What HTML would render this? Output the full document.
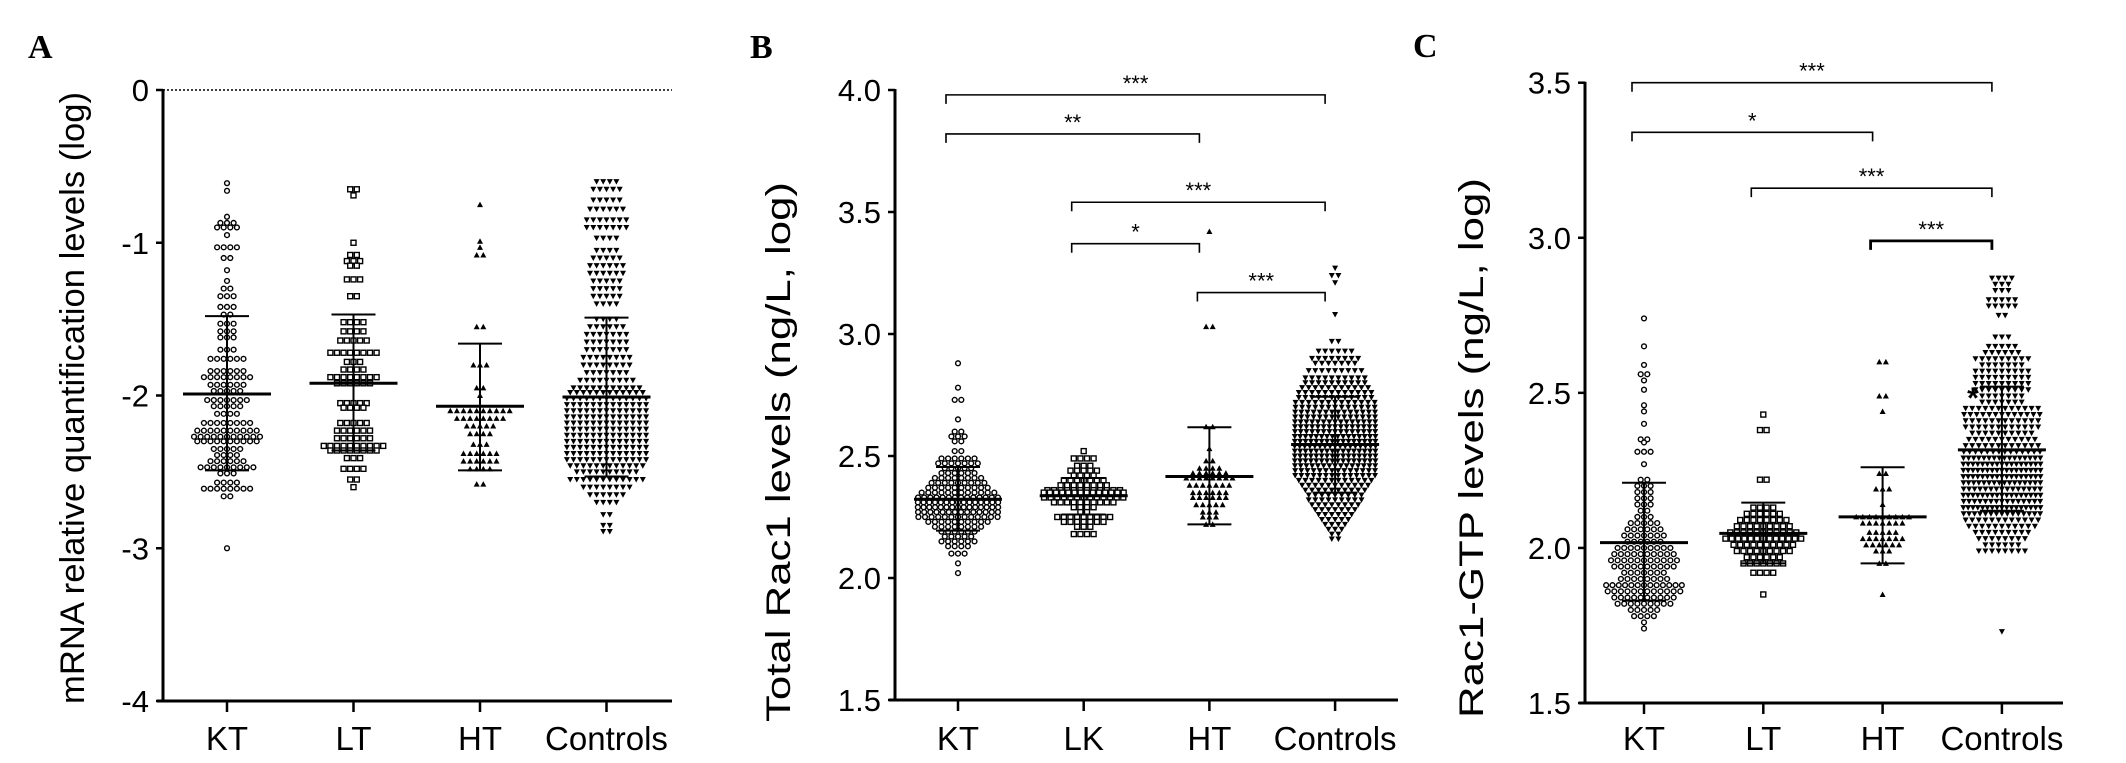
<!DOCTYPE html>
<html><head><meta charset="utf-8"><style>
html,body{margin:0;padding:0;background:#fff;}
svg{display:block;font-family:"Liberation Sans",Arial,sans-serif;}
</style></head><body>
<svg id="fig" width="2126" height="763" viewBox="0 0 2126 763" xmlns="http://www.w3.org/2000/svg"></svg>
<script>
// ---------- DATA ----------
const categoriesA = ["KT","LT","HT","Controls"];
const categoriesB = ["KT","LK","HT","Controls"];
const categoriesC = ["KT","LT","HT","Controls"];
const ticksA = [0,-1,-2,-3,-4];
const ticksB = [1.5,2.0,2.5,3.0,3.5,4.0];
const ticksC = [1.5,2.0,2.5,3.0,3.5];
// means and SD cap values per group
const meanA = [-1.99,-1.92,-2.07,-2.01];
const sdHiA = [-1.48,-1.47,-1.66,-1.49];
const sdLoA = [-2.49,-2.36,-2.49,-2.53];
const meanB = [2.323,2.337,2.416,2.547];
const sdHiB = [2.455,2.41,2.618,2.743];
const sdLoB = [2.194,2.26,2.22,2.35];
const meanC = [2.017,2.047,2.10,2.316];
const sdHiC = [2.21,2.146,2.26,2.52];
const sdLoC = [1.83,1.95,1.95,2.12];
// beeswarm rows: levels and number of points at each level
const A_KT_lv=[-0.61,-0.66,-0.83,-0.87,-0.9,-0.95,-1.03,-1.1,-1.18,-1.25,-1.3,-1.35,-1.42,-1.47,-1.53,-1.58,-1.62,-1.7,-1.76,-1.84,-1.88,-1.93,-1.97,-2.03,-2.07,-2.12,-2.18,-2.23,-2.27,-2.3,-2.35,-2.39,-2.43,-2.47,-2.51,-2.57,-2.61,-2.66,-3.0];
const A_KT_n =[1,1,1,3,4,1,4,2,1,1,2,3,3,2,3,3,3,3,6,6,8,6,5,7,5,4,8,10,11,10,5,4,6,9,3,4,8,2,1];
const A_LT_lv=[-0.65,-0.69,-1.0,-1.08,-1.12,-1.15,-1.24,-1.35,-1.52,-1.58,-1.64,-1.72,-1.78,-1.83,-1.88,-1.92,-2.05,-2.08,-2.18,-2.23,-2.28,-2.33,-2.36,-2.41,-2.48,-2.55,-2.6];
const A_LT_n =[2,1,1,2,3,2,3,2,4,4,5,8,3,4,8,6,5,4,5,6,6,10,8,3,4,2,1];
const A_HT_lv=[-0.75,-0.99,-1.03,-1.08,-1.55,-1.8,-1.95,-2.0,-2.1,-2.15,-2.2,-2.25,-2.32,-2.38,-2.43,-2.48,-2.58];
const A_HT_n =[1,1,1,2,2,3,2,1,10,8,5,4,3,6,6,4,2];
const A_CO_lv=[-0.6,-0.65,-0.72,-0.78,-0.85,-0.9,-0.97,-1.05,-1.1,-1.15,-1.2,-1.25,-1.3,-1.35,-1.4,-1.5,-1.55,-1.6,-1.65,-1.7,-1.75,-1.8,-1.85,-1.9,-1.95,-1.98,-2.02,-2.06,-2.1,-2.14,-2.18,-2.22,-2.26,-2.3,-2.34,-2.38,-2.42,-2.46,-2.5,-2.55,-2.6,-2.65,-2.7,-2.78,-2.85,-2.89];
const A_CO_n =[4,5,5,6,7,7,4,4,5,6,6,5,5,5,4,4,6,7,7,7,8,8,7,9,11,12,13,13,13,13,13,13,13,13,13,13,13,12,10,12,8,6,4,2,2,2];
const B_KT_lv=[2.88,2.78,2.73,2.65,2.6,2.58,2.56,2.52,2.49,2.47,2.45,2.43,2.41,2.39,2.37,2.35,2.33,2.31,2.29,2.27,2.25,2.23,2.21,2.19,2.17,2.15,2.13,2.1,2.06,2.02];
const B_KT_n =[1,1,2,1,2,3,2,2,6,7,5,6,8,9,10,12,14,15,15,14,13,10,8,6,5,6,4,3,1,1];
const B_LK_lv=[2.52,2.49,2.46,2.44,2.42,2.4,2.38,2.36,2.35,2.33,2.31,2.29,2.27,2.25,2.23,2.21,2.18];
const B_LK_n =[1,4,3,5,4,7,8,12,14,13,10,4,2,9,7,3,4];
const B_HT_lv=[3.42,3.03,2.62,2.53,2.48,2.45,2.43,2.41,2.38,2.35,2.33,2.3,2.27,2.25,2.22];
const B_HT_n =[1,2,2,1,2,4,6,8,7,6,6,5,3,3,2];
const B_CO_lv=[3.27,3.24,3.21,3.08,2.97,2.93,2.9,2.88,2.85,2.82,2.8,2.78,2.76,2.74,2.72,2.7,2.68,2.66,2.64,2.62,2.6,2.58,2.56,2.54,2.52,2.5,2.48,2.46,2.44,2.42,2.4,2.38,2.36,2.34,2.32,2.3,2.28,2.26,2.24,2.22,2.2,2.18,2.16];
const B_CO_n =[1,2,1,1,2,6,8,7,9,10,10,11,12,12,13,13,14,14,15,15,15,16,16,17,16,16,16,15,14,14,12,11,10,9,9,8,7,6,5,4,3,2,2];
const C_KT_lv=[2.74,2.65,2.59,2.56,2.54,2.51,2.46,2.44,2.4,2.35,2.34,2.31,2.27,2.22,2.2,2.18,2.16,2.14,2.12,2.1,2.08,2.06,2.04,2.02,2.0,1.98,1.96,1.94,1.92,1.9,1.88,1.86,1.84,1.82,1.8,1.78,1.76,1.74];
const C_KT_n =[1,1,1,2,1,1,1,1,1,2,1,3,1,2,3,3,3,3,2,3,5,6,7,6,9,10,11,10,7,8,13,12,10,9,5,4,1,1];
const C_LT_lv=[2.43,2.38,2.22,2.13,2.11,2.09,2.07,2.05,2.03,2.01,1.99,1.97,1.95,1.92,1.85];
const C_LT_n =[1,2,2,4,6,8,9,11,13,10,9,6,7,4,1];
const C_HT_lv=[2.6,2.49,2.44,2.24,2.19,2.14,2.1,2.08,2.05,2.03,2.01,1.99,1.95,1.85];
const C_HT_n =[2,2,1,2,3,1,9,7,5,7,6,3,2,1];
const C_CO_lv=[2.87,2.85,2.83,2.8,2.78,2.75,2.68,2.65,2.63,2.61,2.59,2.57,2.55,2.53,2.51,2.49,2.47,2.45,2.43,2.41,2.39,2.37,2.35,2.33,2.31,2.29,2.27,2.25,2.23,2.21,2.19,2.17,2.15,2.13,2.11,2.09,2.07,2.05,2.03,2.01,1.99,1.73];
const C_CO_n =[4,3,3,5,5,2,3,5,6,9,7,9,9,9,9,7,7,12,13,12,12,10,11,12,14,16,17,17,17,16,15,17,15,17,15,12,11,9,8,6,8,1];
// significance brackets: [fromGroup, toGroup, level value, label]
const sigFromB=[0,0,1,1,2], sigToB=[3,2,3,2,3], sigValB=[3.98,3.82,3.54,3.37,3.17], sigLblB=["***","**","***","*","***"];
const sigFromC=[0,0,1,2], sigToC=[3,2,3,3], sigValC=[3.5,3.34,3.16,2.99], sigLblC=["***","*","***","***"];

// ---------- DRAW ----------
const NS="http://www.w3.org/2000/svg";
const svg=document.getElementById('fig');
function mk(tag,attrs,parent,text){const e=document.createElementNS(NS,tag);for(const k in attrs)e.setAttribute(k,attrs[k]);if(text!==undefined)e.textContent=text;(parent||svg).appendChild(e);return e;}

function panel(p){
  const g=mk('g',{});
  
  
  const y=v=>p.yTop+(p.vTop-v)*(p.yBot-p.yTop)/(p.vTop-p.vBot);
  const x=i=>p.x0+i*p.dx;
  // panel letter
  const L=mk('text',{x:p.letterX,y:p.letterY,'font-family':'Liberation Serif,serif','font-weight':'bold','font-size':34},g,p.id);
  
  
  // axes
  const ya=mk('line',{x1:p.axX,y1:y(p.vTop)-1,x2:p.axX,y2:y(p.vBot)+1.5,stroke:'#000','stroke-width':3},g);
  
  
  const xa=mk('line',{x1:p.axX-6,y1:y(p.vBot),x2:p.axEnd,y2:y(p.vBot),stroke:'#000','stroke-width':3},g);
  
  
  p.ticks.forEach(t=>{
    mk('line',{x1:p.axX-7,y1:y(t),x2:p.axX,y2:y(t),stroke:'#000','stroke-width':2.5},g);
    const tl=mk('text',{x:p.axX-14,y:y(t)+11,'text-anchor':'end','font-size':31},g,p.fmt(t));
    
    
  });
  if(p.dotZero){
    const dz=mk('line',{x1:p.axX,y1:y(0),x2:p.axEnd,y2:y(0),stroke:'#000','stroke-width':1.5,'stroke-dasharray':'2,2'},g);
    
    
  }
  // y title
  const ty=mk('text',{x:0,y:0,'text-anchor':'middle','font-size':34,textLength:p.titleLen,lengthAdjust:'spacingAndGlyphs',transform:`translate(${p.titleX},${p.titleY}) rotate(-90)`},g,p.title);
  
  
  // categories
  p.cats.forEach((c,i)=>{
    mk('line',{x1:x(i),y1:y(p.vBot),x2:x(i),y2:y(p.vBot)+11,stroke:'#000','stroke-width':2.5},g);
    const cl=mk('text',{x:x(i),y:750,'text-anchor':'middle','font-size':33},g,c);
    
    
  });
  // points
  p.groups.forEach((gr,i)=>{
    const gg=mk('g',{},g);
    
    
    gr.lv.forEach((v,k)=>{
      const n=gr.n[k];
      const sp=Math.min(6.6,p.maxW/Math.max(n,1));
      for(let j=0;j<n;j++){
        const px=x(i)+(j-(n-1)/2)*sp, py=y(v);
        let m;
        if(i===0) m=mk('circle',{cx:px,cy:py,r:2.4,fill:'#fff',stroke:'#000','stroke-width':1.4},gg);
        else if(i===1) m=mk('rect',{x:px-2.5,y:py-2.5,width:5,height:5,fill:'#fff',stroke:'#000','stroke-width':1.4},gg);
        else if(i===2) m=mk('path',{d:`M${px-3},${py+2.5}L${px+3},${py+2.5}L${px},${py-3}Z`,fill:'#000'},gg);
        else m=mk('path',{d:`M${px-3},${py-2.5}L${px+3},${py-2.5}L${px},${py+3}Z`,fill:'#000'},gg);
        
        
      }
    });
    // mean & SD
    const ml=mk('line',{x1:x(i)-44,y1:y(p.mean[i]),x2:x(i)+44,y2:y(p.mean[i]),stroke:'#000','stroke-width':3},gg);
    
    
    const sl=mk('line',{x1:x(i),y1:y(p.hi[i]),x2:x(i),y2:y(p.lo[i]),stroke:'#000','stroke-width':2},gg);
    
    
    [p.hi[i],p.lo[i]].forEach(v=>{
      const cp=mk('line',{x1:x(i)-22,y1:y(v),x2:x(i)+22,y2:y(v),stroke:'#000','stroke-width':2},gg);
      
      
    });
  });
  // brackets
  if(p.sigF){
    p.sigF.forEach((f,k)=>{
      const bg=mk('g',{},g);
      
      
      const x1=x(f)-12,x2=x(p.sigT[k])-10,yy=y(p.sigV[k]);
      mk('path',{d:`M${x1},${yy+9}L${x1},${yy}L${x2},${yy}L${x2},${yy+9}`,fill:'none',stroke:'#000','stroke-width':k===p.boldIdx?2.8:1.6},bg);
      mk('text',{x:(x1+x2)/2,y:yy-4,'text-anchor':'middle','font-size':22},bg,p.sigL[k]);
    });
  }
}

panel({id:'A',letterX:28,letterY:58,x0:227,dx:126.5,axX:163,axEnd:672,yTop:90,yBot:701,vTop:0,vBot:-4,ticks:ticksA,fmt:t=>String(t),dotZero:true,
  title:'mRNA relative quantification levels (log)',titleX:84,titleY:398,titleLen:612,cats:categoriesA,maxW:86,
  groups:[{lv:A_KT_lv,n:A_KT_n},{lv:A_LT_lv,n:A_LT_n},{lv:A_HT_lv,n:A_HT_n},{lv:A_CO_lv,n:A_CO_n}],mean:meanA,hi:sdHiA,lo:sdLoA});
panel({id:'B',letterX:750,letterY:58,x0:958,dx:125.7,axX:895,axEnd:1398,yTop:90,yBot:700,vTop:4.0,vBot:1.5,ticks:ticksB,fmt:t=>t.toFixed(1),
  title:'Total Rac1 levels (ng/L, log)',titleX:790,titleY:452,titleLen:540,cats:categoriesB,maxW:86,
  groups:[{lv:B_KT_lv,n:B_KT_n},{lv:B_LK_lv,n:B_LK_n},{lv:B_HT_lv,n:B_HT_n},{lv:B_CO_lv,n:B_CO_n}],mean:meanB,hi:sdHiB,lo:sdLoB,
  sigF:sigFromB,sigT:sigToB,sigV:sigValB,sigL:sigLblB,boldIdx:-1});
panel({id:'C',letterX:1413,letterY:57,x0:1644,dx:119.3,axX:1585,axEnd:2063,yTop:82.7,yBot:703,vTop:3.5,vBot:1.5,ticks:ticksC,fmt:t=>t.toFixed(1),
  title:'Rac1-GTP levels (ng/L, log)',titleX:1483,titleY:448,titleLen:540,cats:categoriesC,maxW:82,
  groups:[{lv:C_KT_lv,n:C_KT_n},{lv:C_LT_lv,n:C_LT_n},{lv:C_HT_lv,n:C_HT_n},{lv:C_CO_lv,n:C_CO_n}],mean:meanC,hi:sdHiC,lo:sdLoC,
  sigF:sigFromC,sigT:sigToC,sigV:sigValC,sigL:sigLblC,boldIdx:3});
// stray asterisk annotation in panel C
const st=mk('text',{x:1973,y:408,'text-anchor':'middle','font-size':30,'font-weight':'bold'},svg,'*');


</script>
</body></html>
